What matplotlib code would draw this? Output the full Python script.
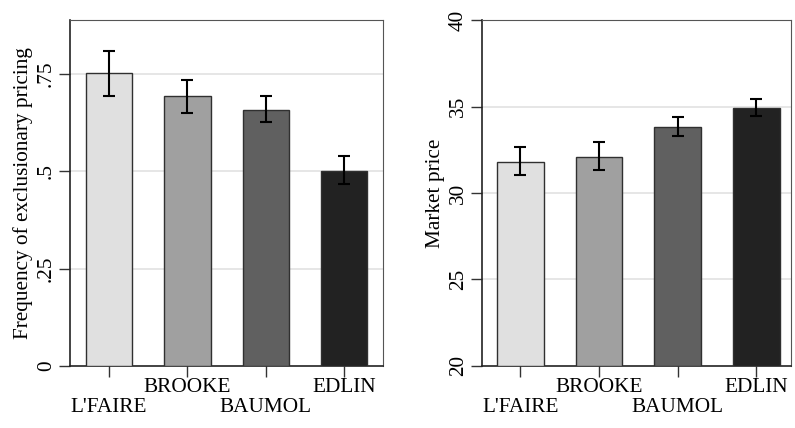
import numpy as np
import matplotlib
matplotlib.use("Agg")
import matplotlib.pyplot as plt

treatments = ["L'FAIRE", "BROOKE", "BAUMOL", "EDLIN"]
bar_colors = ["#e0e0e0", "#a0a0a0", "#606060", "#222222"]

# left panel: frequency of exclusionary pricing
freq_mean = [0.752, 0.694, 0.659, 0.502]
freq_lo = [0.695, 0.651, 0.628, 0.468]
freq_hi = [0.809, 0.736, 0.693, 0.539]

# right panel: market price
price_mean = [31.8, 32.1, 33.8, 34.9]
price_lo = [31.05, 31.34, 33.31, 34.45]
price_hi = [32.66, 32.94, 34.37, 35.42]

plt.rcParams['font.family'] = ['Liberation Serif', 'DejaVu Serif']
plt.rcParams['font.size'] = 15.3


def draw_panel(ax, mean, lo, hi, ylim, yticks, yticklabels, grid, ylabel, xlim):
    x = np.arange(len(treatments))
    mean = np.array(mean)
    err = [mean - np.array(lo), np.array(hi) - mean]
    ax.bar(x, mean - ylim[0], bottom=ylim[0], width=0.59, color=bar_colors,
           edgecolor="#303030", linewidth=1.0, zorder=3)
    ax.errorbar(x, mean, yerr=err, fmt='none', ecolor='black', elinewidth=1.5,
                capsize=4, capthick=1.5, zorder=4)
    for g in grid:
        ax.axhline(g, color="#e2e2e2", linewidth=1.2, zorder=1)
    ax.set_ylim(*ylim)
    ax.set_xlim(*xlim)
    ax.set_yticks(yticks)
    ax.set_yticklabels(yticklabels, rotation=90, va='center')
    ax.set_ylabel(ylabel, labelpad=3)
    ax.set_xticks(x)
    ax.set_xticklabels(treatments)
    ax.tick_params(axis='both', direction='out', length=8, width=1, color='#333333')
    ax.tick_params(axis='y', pad=2)
    # staggered labels: odd ones sit one row lower
    for i, tk in enumerate(ax.xaxis.get_major_ticks()):
        tk.set_pad(1 if i % 2 else 15)
    for s in ['left', 'bottom']:
        ax.spines[s].set_color('#222222')
        ax.spines[s].set_linewidth(1.2)
    for s in ['top', 'right']:
        ax.spines[s].set_color('#555555')
        ax.spines[s].set_linewidth(0.8)


fig = plt.figure(figsize=(7.95, 4.28), dpi=100)
ax1 = fig.add_axes([0.088, 0.145, 0.394, 0.808])
ax2 = fig.add_axes([0.606, 0.145, 0.389, 0.808])

draw_panel(ax1, freq_mean, freq_lo, freq_hi, (0, 0.889), [0, 0.25, 0.5, 0.75],
           ["0", ".25", ".5", ".75"], [0.25, 0.5, 0.75],
           "Frequency of exclusionary pricing", (-0.5, 3.5))
draw_panel(ax2, price_mean, price_lo, price_hi, (20, 40), [20, 25, 30, 35, 40],
           ["20", "25", "30", "35", "40"], [25, 30, 35],
           "Market price", (-0.49, 3.44))

fig.savefig("out.png", dpi=100)
